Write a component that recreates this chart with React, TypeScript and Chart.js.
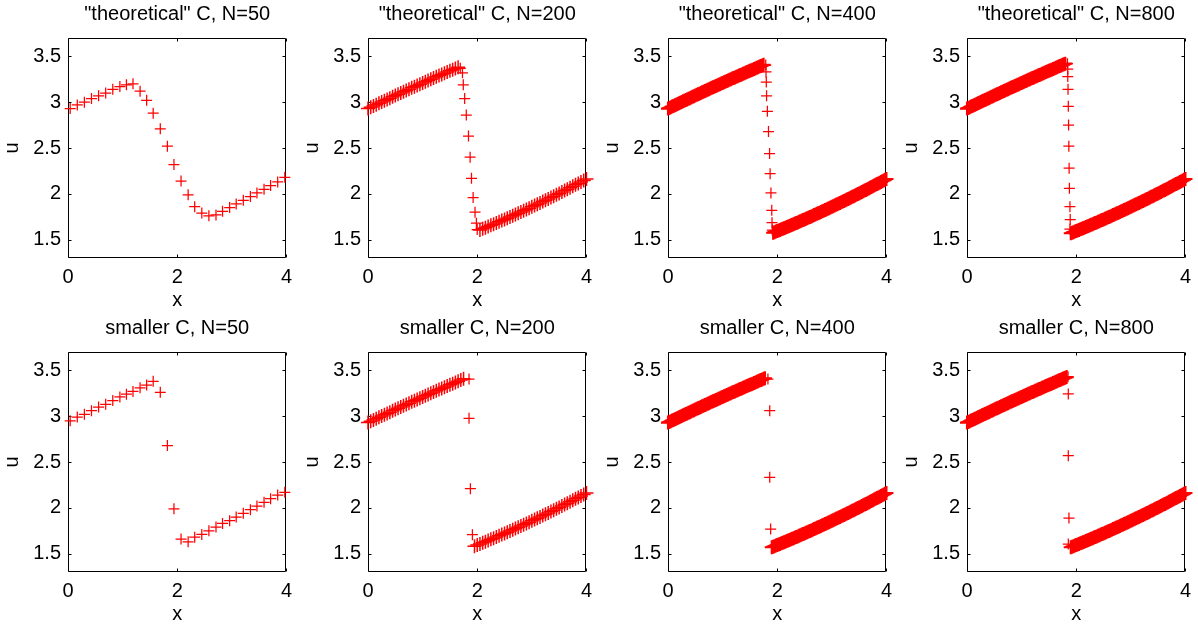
import React, { useEffect, useRef } from 'react';
import { Chart, registerables } from 'chart.js';

Chart.register(...registerables);

const FONT = "'Liberation Sans', Arial, Helvetica, sans-serif";

// axis ticks
const xTickValues = [0, 2, 4];
const yTickValues = [1.5, 2, 2.5, 3, 3.5];
const xMin = 0;
const xMax = 4;
const yMin = 1.3;
const yMax = 3.7;

// titles
const panelTitles = [
  '"theoretical" C, N=50',
  '"theoretical" C, N=200',
  '"theoretical" C, N=400',
  '"theoretical" C, N=800',
  'smaller C, N=50',
  'smaller C, N=200',
  'smaller C, N=400',
  'smaller C, N=800',
];

// coarse grid (N=50 panels)
const gridX50 = [0.04, 0.17, 0.3, 0.43, 0.56, 0.69, 0.82, 0.95, 1.07, 1.19, 1.32, 1.44, 1.56, 1.69, 1.82, 1.94,
  2.07, 2.2, 2.32, 2.45, 2.58, 2.71, 2.83, 2.96, 3.08, 3.21, 3.34, 3.46, 3.59, 3.71, 3.84, 3.97];
const uTheo50 = [2.93, 2.97, 3.0, 3.04, 3.07, 3.1, 3.14, 3.17, 3.19, 3.2, 3.12, 3.02, 2.88, 2.71, 2.52, 2.32,
  2.14, 1.99, 1.86, 1.79, 1.76, 1.77, 1.81, 1.85, 1.89, 1.93, 1.97, 2.01, 2.05, 2.09, 2.13, 2.18];
const uSmall50 = [2.95, 2.99, 3.02, 3.06, 3.1, 3.13, 3.17, 3.21, 3.24, 3.27, 3.31, 3.34, 3.38, 3.26, 2.68, 1.99,
  1.66, 1.63, 1.68, 1.71, 1.75, 1.79, 1.83, 1.86, 1.9, 1.94, 1.98, 2.02, 2.06, 2.1, 2.14, 2.17];

// smooth branches of the fine-grid solutions
const leftBranchX = [0, 0.025, 0.05, 0.075, 0.1, 0.125, 0.15, 0.175, 0.2, 0.225, 0.25, 0.275, 0.3, 0.325, 0.35, 0.375,
  0.4, 0.425, 0.45, 0.475, 0.5, 0.525, 0.55, 0.575, 0.6, 0.625, 0.65, 0.675, 0.7, 0.725, 0.75, 0.775, 0.8, 0.825,
  0.85, 0.875, 0.9, 0.925, 0.95, 0.975, 1, 1.025, 1.05, 1.075, 1.1, 1.125, 1.15, 1.175, 1.2, 1.225, 1.25, 1.275,
  1.3, 1.325, 1.35, 1.375, 1.4, 1.425, 1.45, 1.475, 1.5, 1.525, 1.55, 1.575, 1.6, 1.625, 1.65, 1.675, 1.7, 1.725,
  1.75, 1.775, 1.8, 1.825];
const leftBranchU = [2.93, 2.937, 2.945, 2.952, 2.959, 2.966, 2.973, 2.98, 2.988, 2.995,
  3.002, 3.009, 3.016, 3.023, 3.03, 3.037, 3.044, 3.051, 3.058, 3.065,
  3.073, 3.08, 3.086, 3.093, 3.1, 3.107, 3.114, 3.121, 3.128, 3.135,
  3.142, 3.149, 3.156, 3.162, 3.169, 3.176, 3.183, 3.19, 3.196, 3.203,
  3.21, 3.217, 3.223, 3.23, 3.237, 3.244, 3.25, 3.257, 3.264, 3.27,
  3.277, 3.284, 3.29, 3.297, 3.303, 3.31, 3.316, 3.323, 3.329, 3.336,
  3.343, 3.349, 3.355, 3.362, 3.368, 3.375, 3.381, 3.388, 3.394, 3.4,
  3.407, 3.413, 3.42, 3.426];
const rightBranchX = [1.875, 1.9, 1.925, 1.95, 1.975, 2, 2.025, 2.05, 2.075, 2.1, 2.125, 2.15, 2.175, 2.2, 2.225,
  2.25, 2.275, 2.3, 2.325, 2.35, 2.375, 2.4, 2.425, 2.45, 2.475, 2.5, 2.525, 2.55, 2.575, 2.6, 2.625, 2.65, 2.675,
  2.7, 2.725, 2.75, 2.775, 2.8, 2.825, 2.85, 2.875, 2.9, 2.925, 2.95, 2.975, 3, 3.025, 3.05, 3.075, 3.1, 3.125,
  3.15, 3.175, 3.2, 3.225, 3.25, 3.275, 3.3, 3.325, 3.35, 3.375, 3.4, 3.425, 3.45, 3.475, 3.5, 3.525, 3.55, 3.575,
  3.6, 3.625, 3.65, 3.675, 3.7, 3.725, 3.75, 3.775, 3.8, 3.825, 3.85, 3.875, 3.9, 3.925, 3.95, 3.975, 4];
const rightBranchU = [1.564, 1.57, 1.576, 1.582, 1.588, 1.594, 1.6, 1.606, 1.613, 1.619,
  1.625, 1.631, 1.638, 1.644, 1.65, 1.657, 1.663, 1.669, 1.676, 1.682,
  1.688, 1.695, 1.701, 1.708, 1.715, 1.721, 1.728, 1.734, 1.741, 1.748,
  1.754, 1.761, 1.768, 1.775, 1.782, 1.789, 1.795, 1.802, 1.809, 1.816,
  1.823, 1.83, 1.837, 1.844, 1.851, 1.858, 1.865, 1.873, 1.88, 1.887,
  1.894, 1.901, 1.909, 1.916, 1.923, 1.93, 1.938, 1.945, 1.953, 1.96,
  1.967, 1.975, 1.982, 1.99, 1.998, 2.005, 2.013, 2.02, 2.028, 2.036,
  2.043, 2.051, 2.059, 2.067, 2.075, 2.082, 2.09, 2.098, 2.106, 2.114,
  2.122, 2.13, 2.138, 2.146, 2.154, 2.162];

// points inside the shock, per panel
const shockTheo200X = [1.69, 1.73, 1.745, 1.77, 1.8, 1.84, 1.87, 1.895, 1.925, 1.96, 1.985, 2.0];
const shockTheo200U = [3.37, 3.32, 3.19, 3.04, 2.86, 2.63, 2.4, 2.17, 1.96, 1.8, 1.68, 1.61];
const shockTheo400X = [1.79, 1.795, 1.8, 1.805, 1.82, 1.84, 1.86, 1.87, 1.885, 1.9, 1.905, 1.91];
const shockTheo400U = [3.405, 3.33, 3.22, 3.07, 2.9, 2.68, 2.44, 2.22, 2.01, 1.82, 1.685, 1.605];
const shockTheo800X = [1.84, 1.845, 1.845, 1.85, 1.855, 1.86, 1.865, 1.87, 1.875, 1.885, 1.89, 1.885];
const shockTheo800U = [3.42, 3.36, 3.28, 3.14, 2.955, 2.75, 2.52, 2.28, 2.06, 1.86, 1.72, 1.615];
const shockSmall200X = [1.85, 1.85, 1.875, 1.912];
const shockSmall200U = [3.405, 2.977, 2.209, 1.707];
const shockSmall400X = [1.83, 1.863, 1.863, 1.88];
const shockSmall400U = [3.405, 3.06, 2.333, 1.769];
const shockSmall800X = [1.85, 1.855, 1.855, 1.867, 1.855];
const shockSmall800U = [3.43, 3.242, 2.569, 1.889, 1.605];

// where each dense band ends / starts, and the sampling stride of the band
const bandLeftEnd = [0, 1.65, 1.75, 1.8, 0, 1.75, 1.775, 1.825];
const bandRightStart = [0, 2.025, 1.925, 1.9, 0, 1.925, 1.9, 1.9];
const bandStride = [0, 2, 1, 1, 0, 2, 1, 1];

type Pt = { x: number; y: number; band?: boolean };

function zip(xs: number[], us: number[]): Pt[] {
  return xs.map((x, i) => ({ x, y: us[i] }));
}

function densePanel(i: number, shockX: number[], shockU: number[]): Pt[] {
  const stride = bandStride[i];
  const pts: Pt[] = [];
  leftBranchX.forEach((x, k) => {
    if (x <= bandLeftEnd[i] + 1e-9 && k % stride === 0) pts.push({ x, y: leftBranchU[k], band: true });
  });
  pts.push(...zip(shockX, shockU));
  const last = rightBranchX.length - 1;
  rightBranchX.forEach((x, k) => {
    if (x >= bandRightStart[i] - 1e-9 && (last - k) % stride === 0)
      pts.push({ x, y: rightBranchU[k], band: true });
  });
  return pts;
}

const panelData: Pt[][] = [
  zip(gridX50, uTheo50),
  densePanel(1, shockTheo200X, shockTheo200U),
  densePanel(2, shockTheo400X, shockTheo400U),
  densePanel(3, shockTheo800X, shockTheo800U),
  zip(gridX50, uSmall50),
  densePanel(5, shockSmall200X, shockSmall200U),
  densePanel(6, shockSmall400X, shockSmall400U),
  densePanel(7, shockSmall800X, shockSmall800U),
];

const colLefts = [0, 300, 600, 899];
const rowTops = [0, 314];
const CANVAS_W = 299;
const CANVAS_H = 314;

const axesBox = {
  id: 'axesBox',
  beforeDatasetsDraw(chart: any) {
    const { ctx, chartArea, scales } = chart;
    const L = Math.round(chartArea.left) + 0.5;
    const R = Math.round(chartArea.right) - 0.5;
    const T = Math.round(chartArea.top) + 0.5;
    const B = Math.round(chartArea.bottom) - 0.5;
    const tl = 3;
    ctx.save();
    ctx.strokeStyle = '#000';
    ctx.lineWidth = 1;
    ctx.beginPath();
    ctx.rect(L, T, R - L, B - T);
    ctx.stroke();
    ctx.beginPath();
    yTickValues.forEach((v) => {
      const py = Math.round(scales.y.getPixelForValue(v)) + 0.5;
      ctx.moveTo(L, py);
      ctx.lineTo(L + tl, py);
      ctx.moveTo(R, py);
      ctx.lineTo(R - tl, py);
    });
    xTickValues.forEach((v) => {
      const px = Math.round(scales.x.getPixelForValue(v)) + 0.5;
      ctx.moveTo(px, B);
      ctx.lineTo(px, B - tl);
      ctx.moveTo(px, T);
      ctx.lineTo(px, T + tl);
    });
    ctx.stroke();
    ctx.restore();
  },
};

const tickFont = { family: FONT, size: 20, weight: 'normal' as const, lineHeight: 1.2 };

function PanelChart({ index }: { index: number }) {
  const ref = useRef<HTMLCanvasElement | null>(null);
  useEffect(() => {
    if (!ref.current) return;
    const dense = bandStride[index] === 1;
    const bandWidth = dense ? 2.1 : 1.5;
    const chart = new Chart(ref.current, {
      type: 'scatter',
      data: {
        datasets: [
          {
            data: panelData[index],
            pointStyle: 'cross',
            pointRadius: (c: any) => (c.raw && c.raw.band ? 7 : 5.5),
            pointHoverRadius: (c: any) => (c.raw && c.raw.band ? 7 : 5.5),
            pointBorderWidth: (c: any) => (c.raw && c.raw.band ? bandWidth : 1.25),
            pointBorderColor: '#ff0000',
            pointBackgroundColor: '#ff0000',
            showLine: false,
            clip: false as any,
          } as any,
        ],
      },
      options: {
        responsive: false,
        animation: false,
        events: [],
        layout: { padding: { left: 0, top: 0, right: 12, bottom: 0 } },
        plugins: {
          legend: { display: false },
          tooltip: { enabled: false },
          title: {
            display: true,
            text: panelTitles[index],
            fullSize: false,
            color: '#000',
            font: { family: FONT, size: 20, weight: 'normal', lineHeight: 1.2 },
            padding: { top: 2.5, bottom: 11.5 },
          },
        },
        scales: {
          x: {
            type: 'linear',
            min: xMin,
            max: xMax,
            grid: { display: false, drawTicks: false },
            border: { display: false },
            afterBuildTicks: (s: any) => {
              s.ticks = xTickValues.map((v) => ({ value: v }));
            },
            afterFit: (s: any) => {
              s.height = 56;
            },
            ticks: {
              padding: 7,
              color: '#000',
              font: tickFont,
              maxRotation: 0,
              autoSkip: false,
              callback: (v: any) => String(v),
            },
            title: {
              display: true,
              text: 'x',
              color: '#000',
              font: tickFont,
              padding: { top: 0, bottom: 1.2 },
            },
          },
          y: {
            type: 'linear',
            min: yMin,
            max: yMax,
            grid: { display: false, drawTicks: false },
            border: { display: false },
            afterBuildTicks: (s: any) => {
              s.ticks = yTickValues.map((v) => ({ value: v }));
            },
            afterFit: (s: any) => {
              s.width = 68;
            },
            ticks: {
              padding: 7,
              color: '#000',
              font: tickFont,
              autoSkip: false,
              callback: (v: any) => String(v),
            },
            title: {
              display: true,
              text: 'u',
              color: '#000',
              font: tickFont,
              padding: { top: 0.9, bottom: 0 },
            },
          },
        },
      } as any,
      plugins: [axesBox as any],
    });
    return () => chart.destroy();
  }, [index]);
  const col = index % 4;
  const row = Math.floor(index / 4);
  return (
    <canvas
      ref={ref}
      width={CANVAS_W}
      height={CANVAS_H}
      style={{
        position: 'absolute',
        left: colLefts[col],
        top: rowTops[row],
        width: CANVAS_W,
        height: CANVAS_H,
      }}
    />
  );
}

export default function App() {
  return (
    <div
      style={{
        position: 'absolute',
        left: 0,
        top: 0,
        width: 1198,
        height: 629,
        background: '#fff',
        overflow: 'hidden',
      }}
    >
      {panelTitles.map((_, i) => (
        <PanelChart key={i} index={i} />
      ))}
    </div>
  );
}
